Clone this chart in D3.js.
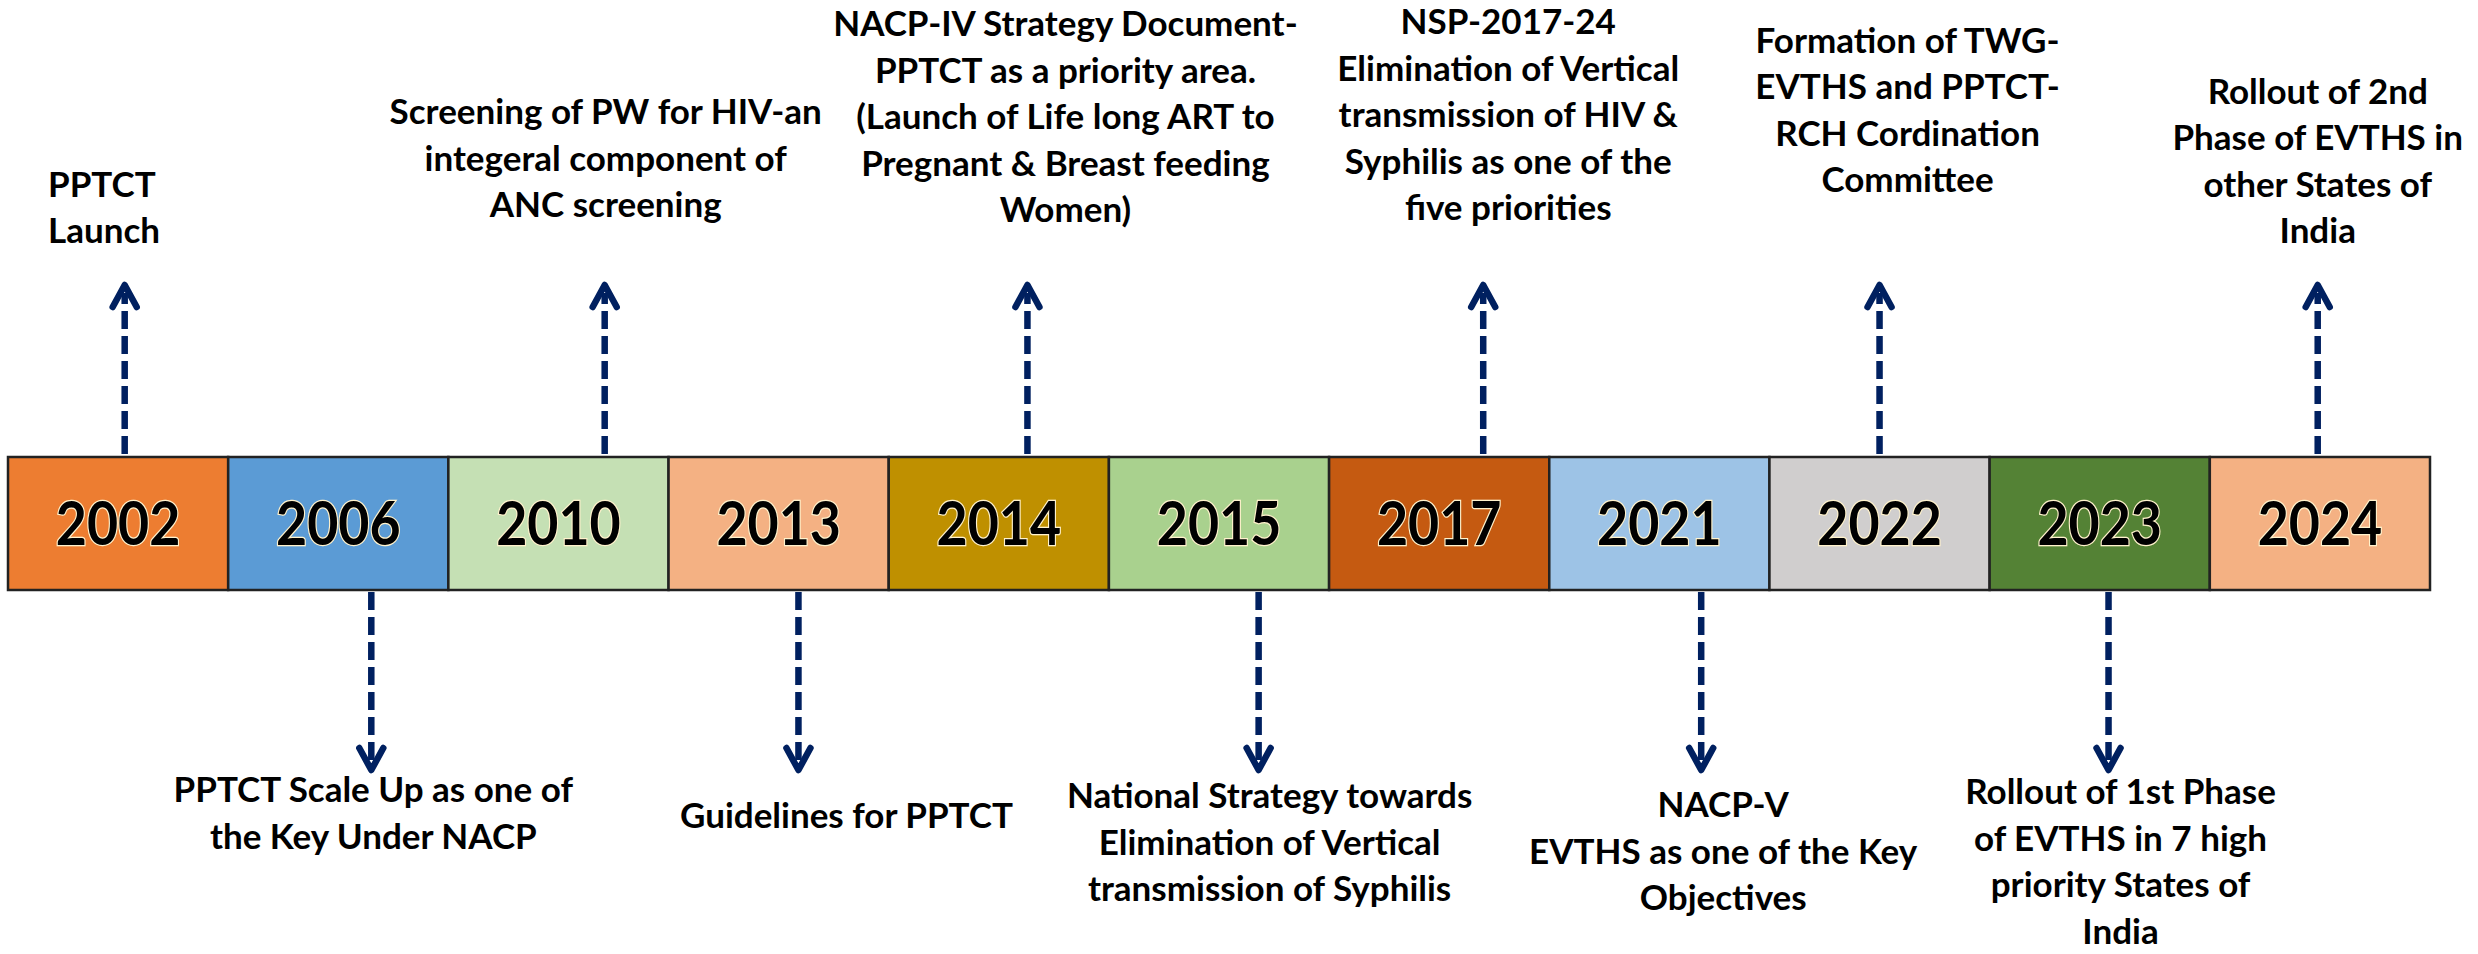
<!DOCTYPE html>
<html>
<head>
<meta charset="utf-8">
<script src="https://cdn.jsdelivr.net/npm/d3@7"></script>
<style>
  body { margin: 0; background: #fff; }
  text { font-family: Lato, "Open Sans", sans-serif; }
</style>
</head>
<body>
<script>
// timeline data
const years = ["2002", "2006", "2010", "2013", "2014", "2015", "2017", "2021", "2022", "2023", "2024"];

const side = ["up", "down", "up", "down", "up", "down", "up", "down", "up", "down", "up"];

const events = [
  ["PPTCT", "Launch"],
  ["PPTCT Scale Up as one of", "the Key Under NACP"],
  ["Screening of PW for HIV-an", "integeral component of", "ANC screening"],
  ["Guidelines for PPTCT"],
  ["NACP-IV Strategy Document-", "PPTCT as a priority area.", "(Launch of Life long ART to", "Pregnant & Breast feeding", "Women)"],
  ["National Strategy towards", "Elimination of Vertical", "transmission of Syphilis"],
  ["NSP-2017-24", "Elimination of Vertical", "transmission of HIV &", "Syphilis as one of the", "five priorities"],
  ["NACP-V", "EVTHS as one of the Key", "Objectives"],
  ["Formation of TWG-", "EVTHS and PPTCT-", "RCH Cordination", "Committee"],
  ["Rollout of 1st Phase", "of EVTHS in 7 high", "priority States of", "India"],
  ["Rollout of 2nd", "Phase of EVTHS in", "other States of", "India"]
];

// styling / layout
const cellColors = ["#ED7D31", "#5B9BD5", "#C5E0B4", "#F4B183", "#BF9000", "#A9D18E",
                    "#C55A11", "#9DC3E6", "#D0CECE", "#548235", "#F4B183"];
const arrowAt  = [0.53, 0.65, 0.71, 0.59, 0.63, 0.68, 0.70, 0.69, 0.50, 0.54, 0.49];
const labelDx  = [0, 2, 1, 48, 38, 11, 25, 22, 28, 12, 0];
const labelGap = [42, 32, 68, 58, 63, 38, 65, 47, 93, 34, 42];

const svgWidth = 2478, svgHeight = 954;
const barTop = 457, barBottom = 590;
const tipUp = 285, tipDown = 770;
const lineH = 46.5;
const navy = "#002060";

const svg = d3.select("body").append("svg")
  .attr("width", svgWidth)
  .attr("height", svgHeight);

const x = d3.scaleBand()
  .domain(years)
  .range([8, 2430])
  .padding(0);

const rows = years.map((y, i) => ({
  year: y, side: side[i], lines: events[i], color: cellColors[i],
  ax: x(y) + arrowAt[i] * x.bandwidth(), dx: labelDx[i], gap: labelGap[i]
}));

// arrows (drawn first so the bar covers their ends)
const arrows = svg.append("g").attr("class", "arrows");

arrows.selectAll("line")
  .data(rows)
  .join("line")
  .attr("x1", d => d.ax)
  .attr("x2", d => d.ax)
  .attr("y1", d => d.side == "up" ? barTop - 3 : barBottom + 2)
  .attr("y2", d => d.side == "up" ? tipUp + 8 : tipDown - 8)
  .attr("stroke", navy)
  .attr("stroke-width", 6.5)
  .attr("stroke-dasharray", "18,7");

arrows.selectAll("path")
  .data(rows)
  .join("path")
  .attr("d", d => {
    const t = d.side == "up" ? tipUp : tipDown;
    const s = d.side == "up" ? 1 : -1;
    return `M${d.ax - 12},${t + s * 22} L${d.ax},${t} L${d.ax + 12},${t + s * 22}`;
  })
  .attr("fill", "none")
  .attr("stroke", navy)
  .attr("stroke-width", 6.5)
  .attr("stroke-linecap", "round")
  .attr("stroke-linejoin", "round");

// year boxes
const cells = svg.append("g").attr("class", "bar")
  .selectAll("g")
  .data(rows)
  .join("g");

cells.append("rect")
  .attr("x", d => x(d.year))
  .attr("y", barTop)
  .attr("width", x.bandwidth())
  .attr("height", barBottom - barTop)
  .attr("fill", d => d.color)
  .attr("stroke", "#222")
  .attr("stroke-width", 2.5);

cells.append("text")
  .attr("transform", d => `translate(${x(d.year) + x.bandwidth() / 2},${(barTop + barBottom) / 2}) scale(0.88,1)`)
  .attr("dy", "0.36em")
  .attr("text-anchor", "middle")
  .attr("font-size", 61)
  .attr("font-weight", 700)
  .attr("fill", "#000")
  .attr("stroke", "#fff2cc")
  .attr("stroke-width", 2.5)
  .attr("paint-order", "stroke")
  .text(d => d.year);

// event labels
const labels = svg.append("g").attr("class", "labels")
  .selectAll("text")
  .data(rows)
  .join("text")
  .attr("font-size", 35)
  .attr("font-weight", 700)
  .attr("fill", "#000")
  .attr("text-anchor", (d, i) => i == 0 ? "start" : "middle")
  .attr("transform", (d, i) => {
    const n = d.lines.length;
    const lx = i == 0 ? 48 : d.ax + d.dx;
    const ly = d.side == "up" ? tipUp - d.gap - (n - 1) * lineH : tipDown + d.gap;
    return `translate(${lx},${ly})`;
  });

labels.selectAll("tspan")
  .data(d => d.lines)
  .join("tspan")
  .attr("x", 0)
  .attr("y", (d, j) => j * lineH)
  .text(d => d);
</script>
</body>
</html>
